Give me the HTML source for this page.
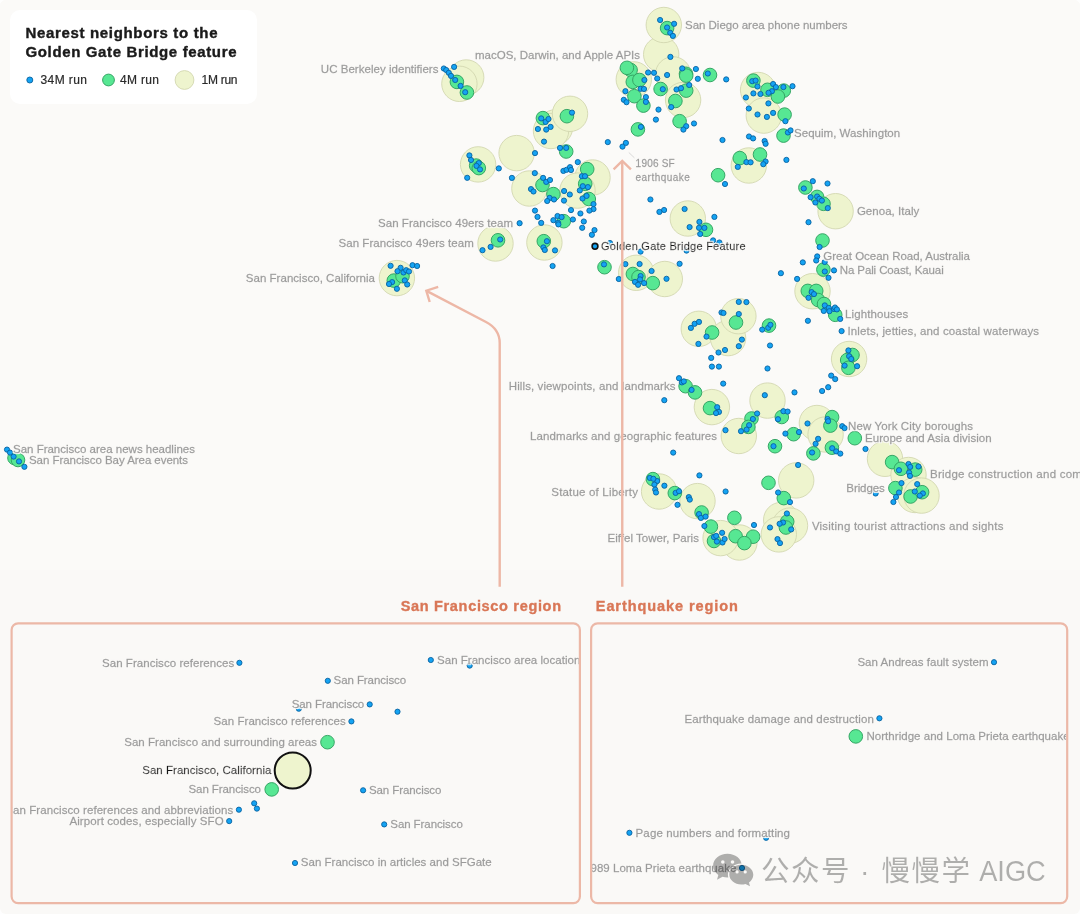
<!DOCTYPE html>
<html><head><meta charset="utf-8"><title>Nearest neighbors to the Golden Gate Bridge feature</title>
<style>
html,body{margin:0;padding:0;background:#fefefe}
body{width:1080px;height:914px;overflow:hidden;position:relative;font-family:"Liberation Sans", sans-serif}
#page{position:absolute;left:0;top:0;width:1080px;height:914px;background:#faf9f7;border-radius:6px;overflow:hidden}
#legend{position:absolute;left:10px;top:10px;width:247px;height:94px;background:#fff;border-radius:10px}
</style></head><body>
<div id="page">
<div style="position:absolute;left:0;top:0;width:1080px;height:570px;background:#fbfaf8"></div>
<div id="legend"></div>
<svg width="1080" height="914" viewBox="0 0 1080 914" style="position:absolute;left:0;top:0;will-change:transform" font-family='"Liberation Sans", sans-serif'><style>
.y{fill:#eef4ce;stroke:#d2d7b0;stroke-width:0.9}
.g{fill:#57e793;stroke:#36a565;stroke-width:1}
.b{fill:#14a3f3;stroke:#09629f;stroke-width:0.9}
.lab text{stroke-width:0.3px}
.arr{fill:none;stroke:#edb7a6;stroke-width:2.4;stroke-linecap:round;stroke-linejoin:round}
</style><g><circle class="y" cx="466.2" cy="77.5" r="17.7"/><circle class="y" cx="459.4" cy="83.8" r="17.7"/><circle class="y" cx="516.6" cy="153.1" r="17.7"/><circle class="y" cx="478.1" cy="164.4" r="17.7"/><circle class="y" cx="529.4" cy="188.5" r="17.7"/><circle class="y" cx="592.5" cy="177.5" r="17.7"/><circle class="y" cx="577.5" cy="190.6" r="17.7"/><circle class="y" cx="555.0" cy="127.5" r="17.7"/><circle class="y" cx="551.0" cy="131.0" r="17.7"/><circle class="y" cx="570.0" cy="113.8" r="17.7"/><circle class="y" cx="544.4" cy="242.5" r="17.7"/><circle class="y" cx="495.5" cy="243.5" r="17.7"/><circle class="y" cx="396.9" cy="278.1" r="17.7"/><circle class="y" cx="661.2" cy="54.4" r="17.7"/><circle class="y" cx="663.8" cy="25.0" r="17.7"/><circle class="y" cx="673.1" cy="74.4" r="17.7"/><circle class="y" cx="633.8" cy="79.4" r="17.7"/><circle class="y" cx="683.1" cy="100.0" r="17.7"/><circle class="y" cx="758.1" cy="90.0" r="17.7"/><circle class="y" cx="763.8" cy="115.6" r="17.7"/><circle class="y" cx="748.8" cy="165.5" r="17.7"/><circle class="y" cx="835.6" cy="211.2" r="17.7"/><circle class="y" cx="687.8" cy="218.5" r="17.7"/><circle class="y" cx="636.2" cy="272.8" r="17.7"/><circle class="y" cx="664.8" cy="279.0" r="17.7"/><circle class="y" cx="812.5" cy="291.2" r="17.7"/><circle class="y" cx="849.1" cy="359.0" r="17.7"/><circle class="y" cx="698.8" cy="328.8" r="17.7"/><circle class="y" cx="728.1" cy="338.1" r="17.7"/><circle class="y" cx="738.4" cy="316.2" r="17.7"/><circle class="y" cx="767.5" cy="400.6" r="17.7"/><circle class="y" cx="711.9" cy="407.1" r="17.7"/><circle class="y" cx="738.8" cy="436.0" r="17.7"/><circle class="y" cx="796.2" cy="480.4" r="17.7"/><circle class="y" cx="659.1" cy="491.5" r="17.7"/><circle class="y" cx="697.5" cy="501.1" r="17.7"/><circle class="y" cx="816.9" cy="423.0" r="17.7"/><circle class="y" cx="825.6" cy="434.5" r="17.7"/><circle class="y" cx="885.0" cy="458.8" r="17.7"/><circle class="y" cx="908.5" cy="475.0" r="17.7"/><circle class="y" cx="915.0" cy="495.0" r="17.7"/><circle class="y" cx="921.5" cy="495.6" r="17.7"/><circle class="y" cx="781.2" cy="520.0" r="17.7"/><circle class="y" cx="790.0" cy="525.6" r="17.7"/><circle class="y" cx="778.8" cy="534.4" r="17.7"/><circle class="y" cx="739.4" cy="542.5" r="17.7"/><circle class="y" cx="720.6" cy="538.1" r="17.7"/></g><g><circle class="g" cx="456.9" cy="81.9" r="6.8"/><circle class="g" cx="466.9" cy="92.5" r="6.8"/><circle class="g" cx="542.9" cy="118.1" r="6.8"/><circle class="g" cx="566.9" cy="116.2" r="6.8"/><circle class="g" cx="476.2" cy="165.6" r="6.8"/><circle class="g" cx="478.8" cy="168.1" r="6.8"/><circle class="g" cx="566.2" cy="151.5" r="6.8"/><circle class="g" cx="587.2" cy="169.1" r="6.8"/><circle class="g" cx="585.2" cy="183.8" r="6.8"/><circle class="g" cx="588.8" cy="199.0" r="6.8"/><circle class="g" cx="542.5" cy="185.0" r="6.8"/><circle class="g" cx="553.4" cy="194.1" r="6.8"/><circle class="g" cx="563.8" cy="221.2" r="6.8"/><circle class="g" cx="543.8" cy="241.2" r="6.8"/><circle class="g" cx="498.0" cy="240.3" r="6.8"/><circle class="g" cx="393.8" cy="280.6" r="6.8"/><circle class="g" cx="402.5" cy="276.2" r="6.8"/><circle class="g" cx="667.1" cy="28.1" r="6.8"/><circle class="g" cx="630.6" cy="70.0" r="6.8"/><circle class="g" cx="626.9" cy="67.8" r="6.8"/><circle class="g" cx="632.8" cy="81.9" r="6.8"/><circle class="g" cx="639.4" cy="80.0" r="6.8"/><circle class="g" cx="634.4" cy="96.2" r="6.8"/><circle class="g" cx="643.4" cy="105.6" r="6.8"/><circle class="g" cx="660.6" cy="89.0" r="6.8"/><circle class="g" cx="686.0" cy="73.8" r="6.8"/><circle class="g" cx="686.2" cy="75.6" r="6.8"/><circle class="g" cx="710.0" cy="75.0" r="6.8"/><circle class="g" cx="686.2" cy="90.6" r="6.8"/><circle class="g" cx="675.4" cy="101.0" r="6.8"/><circle class="g" cx="637.9" cy="129.4" r="6.8"/><circle class="g" cx="679.6" cy="121.2" r="6.8"/><circle class="g" cx="718.1" cy="175.2" r="6.8"/><circle class="g" cx="753.4" cy="80.6" r="6.8"/><circle class="g" cx="767.5" cy="89.8" r="6.8"/><circle class="g" cx="783.8" cy="90.6" r="6.8"/><circle class="g" cx="777.9" cy="96.5" r="6.8"/><circle class="g" cx="784.6" cy="114.6" r="6.8"/><circle class="g" cx="783.5" cy="135.6" r="6.8"/><circle class="g" cx="739.8" cy="158.1" r="6.8"/><circle class="g" cx="760.0" cy="154.5" r="6.8"/><circle class="g" cx="805.4" cy="187.5" r="6.8"/><circle class="g" cx="817.1" cy="196.9" r="6.8"/><circle class="g" cx="823.5" cy="203.8" r="6.8"/><circle class="g" cx="822.5" cy="240.5" r="6.8"/><circle class="g" cx="706.0" cy="229.8" r="6.8"/><circle class="g" cx="604.5" cy="267.2" r="6.8"/><circle class="g" cx="632.9" cy="274.0" r="6.8"/><circle class="g" cx="638.5" cy="277.1" r="6.8"/><circle class="g" cx="652.8" cy="283.1" r="6.8"/><circle class="g" cx="823.4" cy="269.6" r="6.8"/><circle class="g" cx="807.8" cy="290.9" r="6.8"/><circle class="g" cx="816.2" cy="290.9" r="6.8"/><circle class="g" cx="818.1" cy="300.0" r="6.8"/><circle class="g" cx="824.0" cy="304.0" r="6.8"/><circle class="g" cx="835.2" cy="314.8" r="6.8"/><circle class="g" cx="769.0" cy="325.6" r="6.8"/><circle class="g" cx="852.5" cy="355.0" r="6.8"/><circle class="g" cx="847.2" cy="360.0" r="6.8"/><circle class="g" cx="848.4" cy="367.8" r="6.8"/><circle class="g" cx="712.1" cy="332.5" r="6.8"/><circle class="g" cx="736.0" cy="322.5" r="6.8"/><circle class="g" cx="685.6" cy="386.2" r="6.8"/><circle class="g" cx="695.0" cy="392.4" r="6.8"/><circle class="g" cx="710.0" cy="408.1" r="6.8"/><circle class="g" cx="751.5" cy="418.5" r="6.8"/><circle class="g" cx="748.4" cy="426.9" r="6.8"/><circle class="g" cx="781.8" cy="417.0" r="6.8"/><circle class="g" cx="775.0" cy="446.2" r="6.8"/><circle class="g" cx="768.5" cy="482.8" r="6.8"/><circle class="g" cx="793.6" cy="434.2" r="6.8"/><circle class="g" cx="832.1" cy="417.1" r="6.8"/><circle class="g" cx="830.4" cy="425.6" r="6.8"/><circle class="g" cx="854.8" cy="438.2" r="6.8"/><circle class="g" cx="831.9" cy="447.7" r="6.8"/><circle class="g" cx="813.4" cy="453.4" r="6.8"/><circle class="g" cx="892.1" cy="462.1" r="6.8"/><circle class="g" cx="900.9" cy="468.8" r="6.8"/><circle class="g" cx="915.2" cy="469.6" r="6.8"/><circle class="g" cx="895.4" cy="488.1" r="6.8"/><circle class="g" cx="910.6" cy="496.5" r="6.8"/><circle class="g" cx="922.1" cy="492.2" r="6.8"/><circle class="g" cx="783.8" cy="498.1" r="6.8"/><circle class="g" cx="787.2" cy="521.6" r="6.8"/><circle class="g" cx="785.9" cy="527.5" r="6.8"/><circle class="g" cx="753.1" cy="536.7" r="6.8"/><circle class="g" cx="652.9" cy="479.1" r="6.8"/><circle class="g" cx="674.8" cy="493.1" r="6.8"/><circle class="g" cx="701.6" cy="512.5" r="6.8"/><circle class="g" cx="710.9" cy="526.6" r="6.8"/><circle class="g" cx="714.0" cy="541.0" r="6.8"/><circle class="g" cx="734.4" cy="517.8" r="6.8"/><circle class="g" cx="735.6" cy="536.2" r="6.8"/><circle class="g" cx="744.4" cy="543.1" r="6.8"/><circle class="g" cx="14.5" cy="458.0" r="6.8"/><circle class="g" cx="18.0" cy="460.0" r="6.8"/></g><g><circle class="b" cx="443.8" cy="68.5" r="2.6"/><circle class="b" cx="446.2" cy="70.0" r="2.6"/><circle class="b" cx="448.8" cy="72.8" r="2.6"/><circle class="b" cx="451.0" cy="75.9" r="2.6"/><circle class="b" cx="455.2" cy="80.0" r="2.6"/><circle class="b" cx="460.6" cy="85.9" r="2.6"/><circle class="b" cx="465.2" cy="92.2" r="2.6"/><circle class="b" cx="454.1" cy="66.9" r="2.6"/><circle class="b" cx="541.2" cy="118.4" r="2.6"/><circle class="b" cx="545.6" cy="121.9" r="2.6"/><circle class="b" cx="548.5" cy="119.0" r="2.6"/><circle class="b" cx="550.6" cy="126.9" r="2.6"/><circle class="b" cx="546.2" cy="129.6" r="2.6"/><circle class="b" cx="537.9" cy="129.0" r="2.6"/><circle class="b" cx="544.0" cy="141.6" r="2.6"/><circle class="b" cx="560.0" cy="147.9" r="2.6"/><circle class="b" cx="535.0" cy="153.1" r="2.6"/><circle class="b" cx="572.0" cy="112.6" r="2.6"/><circle class="b" cx="469.4" cy="155.4" r="2.6"/><circle class="b" cx="471.0" cy="160.0" r="2.6"/><circle class="b" cx="478.8" cy="163.1" r="2.6"/><circle class="b" cx="476.5" cy="165.9" r="2.6"/><circle class="b" cx="480.0" cy="169.4" r="2.6"/><circle class="b" cx="498.8" cy="168.4" r="2.6"/><circle class="b" cx="467.2" cy="177.8" r="2.6"/><circle class="b" cx="500.2" cy="239.5" r="2.6"/><circle class="b" cx="490.6" cy="246.9" r="2.6"/><circle class="b" cx="482.5" cy="250.2" r="2.6"/><circle class="b" cx="390.6" cy="265.8" r="2.6"/><circle class="b" cx="400.6" cy="267.8" r="2.6"/><circle class="b" cx="397.5" cy="271.2" r="2.6"/><circle class="b" cx="403.5" cy="272.5" r="2.6"/><circle class="b" cx="406.2" cy="270.2" r="2.6"/><circle class="b" cx="409.0" cy="271.5" r="2.6"/><circle class="b" cx="412.5" cy="265.2" r="2.6"/><circle class="b" cx="417.1" cy="266.0" r="2.6"/><circle class="b" cx="404.8" cy="280.4" r="2.6"/><circle class="b" cx="407.2" cy="284.5" r="2.6"/><circle class="b" cx="392.1" cy="282.1" r="2.6"/><circle class="b" cx="389.0" cy="284.0" r="2.6"/><circle class="b" cx="396.9" cy="288.8" r="2.6"/><circle class="b" cx="566.2" cy="147.9" r="2.6"/><circle class="b" cx="511.9" cy="177.9" r="2.6"/><circle class="b" cx="534.8" cy="173.1" r="2.6"/><circle class="b" cx="543.1" cy="177.9" r="2.6"/><circle class="b" cx="546.2" cy="181.9" r="2.6"/><circle class="b" cx="550.0" cy="180.0" r="2.6"/><circle class="b" cx="531.0" cy="189.1" r="2.6"/><circle class="b" cx="533.5" cy="191.5" r="2.6"/><circle class="b" cx="563.4" cy="170.9" r="2.6"/><circle class="b" cx="566.5" cy="169.8" r="2.6"/><circle class="b" cx="570.0" cy="167.2" r="2.6"/><circle class="b" cx="571.0" cy="170.0" r="2.6"/><circle class="b" cx="577.8" cy="162.1" r="2.6"/><circle class="b" cx="581.9" cy="176.2" r="2.6"/><circle class="b" cx="585.0" cy="176.2" r="2.6"/><circle class="b" cx="582.8" cy="186.2" r="2.6"/><circle class="b" cx="587.9" cy="187.1" r="2.6"/><circle class="b" cx="579.8" cy="190.4" r="2.6"/><circle class="b" cx="564.1" cy="191.0" r="2.6"/><circle class="b" cx="569.8" cy="194.5" r="2.6"/><circle class="b" cx="564.0" cy="200.6" r="2.6"/><circle class="b" cx="549.6" cy="197.9" r="2.6"/><circle class="b" cx="554.0" cy="199.5" r="2.6"/><circle class="b" cx="547.2" cy="201.0" r="2.6"/><circle class="b" cx="582.5" cy="198.5" r="2.6"/><circle class="b" cx="586.6" cy="195.9" r="2.6"/><circle class="b" cx="593.5" cy="204.1" r="2.6"/><circle class="b" cx="593.5" cy="209.1" r="2.6"/><circle class="b" cx="589.4" cy="210.6" r="2.6"/><circle class="b" cx="571.0" cy="210.1" r="2.6"/><circle class="b" cx="580.4" cy="213.5" r="2.6"/><circle class="b" cx="535.0" cy="210.6" r="2.6"/><circle class="b" cx="537.5" cy="216.9" r="2.6"/><circle class="b" cx="541.2" cy="222.9" r="2.6"/><circle class="b" cx="519.6" cy="223.2" r="2.6"/><circle class="b" cx="557.5" cy="216.0" r="2.6"/><circle class="b" cx="561.6" cy="217.1" r="2.6"/><circle class="b" cx="553.4" cy="220.2" r="2.6"/><circle class="b" cx="558.1" cy="222.8" r="2.6"/><circle class="b" cx="558.4" cy="224.4" r="2.6"/><circle class="b" cx="572.9" cy="219.5" r="2.6"/><circle class="b" cx="583.8" cy="221.5" r="2.6"/><circle class="b" cx="582.2" cy="227.8" r="2.6"/><circle class="b" cx="594.5" cy="230.1" r="2.6"/><circle class="b" cx="591.9" cy="234.8" r="2.6"/><circle class="b" cx="546.9" cy="241.2" r="2.6"/><circle class="b" cx="607.8" cy="142.1" r="2.6"/><circle class="b" cx="622.5" cy="146.6" r="2.6"/><circle class="b" cx="625.9" cy="142.9" r="2.6"/><circle class="b" cx="610.0" cy="243.0" r="2.6"/><circle class="b" cx="543.4" cy="247.4" r="2.6"/><circle class="b" cx="544.8" cy="250.0" r="2.6"/><circle class="b" cx="555.0" cy="250.4" r="2.6"/><circle class="b" cx="552.6" cy="266.0" r="2.6"/><circle class="b" cx="660.1" cy="20.0" r="2.6"/><circle class="b" cx="674.1" cy="23.8" r="2.6"/><circle class="b" cx="667.1" cy="27.5" r="2.6"/><circle class="b" cx="670.2" cy="32.8" r="2.6"/><circle class="b" cx="672.9" cy="35.9" r="2.6"/><circle class="b" cx="670.4" cy="56.9" r="2.6"/><circle class="b" cx="648.1" cy="72.5" r="2.6"/><circle class="b" cx="654.0" cy="72.8" r="2.6"/><circle class="b" cx="657.2" cy="78.5" r="2.6"/><circle class="b" cx="667.1" cy="75.0" r="2.6"/><circle class="b" cx="682.2" cy="68.4" r="2.6"/><circle class="b" cx="695.9" cy="69.0" r="2.6"/><circle class="b" cx="697.8" cy="78.8" r="2.6"/><circle class="b" cx="707.8" cy="73.5" r="2.6"/><circle class="b" cx="726.2" cy="79.4" r="2.6"/><circle class="b" cx="644.4" cy="80.0" r="2.6"/><circle class="b" cx="640.6" cy="88.8" r="2.6"/><circle class="b" cx="644.0" cy="89.0" r="2.6"/><circle class="b" cx="625.4" cy="91.2" r="2.6"/><circle class="b" cx="623.8" cy="99.8" r="2.6"/><circle class="b" cx="626.5" cy="102.2" r="2.6"/><circle class="b" cx="645.9" cy="97.1" r="2.6"/><circle class="b" cx="645.9" cy="101.9" r="2.6"/><circle class="b" cx="662.8" cy="89.2" r="2.6"/><circle class="b" cx="676.5" cy="89.5" r="2.6"/><circle class="b" cx="681.0" cy="88.2" r="2.6"/><circle class="b" cx="689.2" cy="85.0" r="2.6"/><circle class="b" cx="671.2" cy="107.1" r="2.6"/><circle class="b" cx="658.5" cy="109.6" r="2.6"/><circle class="b" cx="640.9" cy="126.9" r="2.6"/><circle class="b" cx="655.9" cy="119.6" r="2.6"/><circle class="b" cx="686.2" cy="126.2" r="2.6"/><circle class="b" cx="683.4" cy="129.6" r="2.6"/><circle class="b" cx="694.0" cy="123.5" r="2.6"/><circle class="b" cx="722.5" cy="140.0" r="2.6"/><circle class="b" cx="725.0" cy="184.0" r="2.6"/><circle class="b" cx="650.4" cy="199.5" r="2.6"/><circle class="b" cx="664.1" cy="210.0" r="2.6"/><circle class="b" cx="659.4" cy="211.9" r="2.6"/><circle class="b" cx="684.6" cy="209.0" r="2.6"/><circle class="b" cx="752.2" cy="81.2" r="2.6"/><circle class="b" cx="755.6" cy="80.6" r="2.6"/><circle class="b" cx="757.5" cy="86.5" r="2.6"/><circle class="b" cx="773.1" cy="84.0" r="2.6"/><circle class="b" cx="775.9" cy="87.1" r="2.6"/><circle class="b" cx="771.9" cy="91.2" r="2.6"/><circle class="b" cx="768.5" cy="92.8" r="2.6"/><circle class="b" cx="783.4" cy="87.1" r="2.6"/><circle class="b" cx="792.5" cy="86.2" r="2.6"/><circle class="b" cx="753.4" cy="93.4" r="2.6"/><circle class="b" cx="760.4" cy="94.0" r="2.6"/><circle class="b" cx="745.9" cy="97.5" r="2.6"/><circle class="b" cx="768.4" cy="103.4" r="2.6"/><circle class="b" cx="748.8" cy="108.5" r="2.6"/><circle class="b" cx="757.5" cy="114.5" r="2.6"/><circle class="b" cx="766.9" cy="116.9" r="2.6"/><circle class="b" cx="773.1" cy="112.9" r="2.6"/><circle class="b" cx="785.4" cy="121.2" r="2.6"/><circle class="b" cx="787.9" cy="132.5" r="2.6"/><circle class="b" cx="790.6" cy="130.4" r="2.6"/><circle class="b" cx="749.0" cy="136.5" r="2.6"/><circle class="b" cx="753.1" cy="138.4" r="2.6"/><circle class="b" cx="764.6" cy="141.0" r="2.6"/><circle class="b" cx="765.6" cy="143.8" r="2.6"/><circle class="b" cx="786.4" cy="159.9" r="2.6"/><circle class="b" cx="746.4" cy="162.1" r="2.6"/><circle class="b" cx="750.6" cy="162.3" r="2.6"/><circle class="b" cx="765.6" cy="161.5" r="2.6"/><circle class="b" cx="763.3" cy="164.2" r="2.6"/><circle class="b" cx="737.8" cy="166.9" r="2.6"/><circle class="b" cx="812.8" cy="181.2" r="2.6"/><circle class="b" cx="827.5" cy="183.5" r="2.6"/><circle class="b" cx="803.8" cy="188.5" r="2.6"/><circle class="b" cx="810.6" cy="197.2" r="2.6"/><circle class="b" cx="817.1" cy="196.5" r="2.6"/><circle class="b" cx="819.4" cy="198.8" r="2.6"/><circle class="b" cx="821.9" cy="200.6" r="2.6"/><circle class="b" cx="815.4" cy="202.5" r="2.6"/><circle class="b" cx="827.8" cy="208.1" r="2.6"/><circle class="b" cx="808.5" cy="222.2" r="2.6"/><circle class="b" cx="819.6" cy="247.0" r="2.6"/><circle class="b" cx="817.2" cy="256.4" r="2.6"/><circle class="b" cx="816.2" cy="260.5" r="2.6"/><circle class="b" cx="802.8" cy="262.4" r="2.6"/><circle class="b" cx="824.7" cy="262.0" r="2.6"/><circle class="b" cx="714.4" cy="216.9" r="2.6"/><circle class="b" cx="699.4" cy="221.9" r="2.6"/><circle class="b" cx="699.0" cy="227.8" r="2.6"/><circle class="b" cx="704.4" cy="227.9" r="2.6"/><circle class="b" cx="689.6" cy="227.1" r="2.6"/><circle class="b" cx="700.2" cy="234.0" r="2.6"/><circle class="b" cx="713.1" cy="240.4" r="2.6"/><circle class="b" cx="719.4" cy="242.5" r="2.6"/><circle class="b" cx="686.5" cy="250.6" r="2.6"/><circle class="b" cx="640.6" cy="251.6" r="2.6"/><circle class="b" cx="679.6" cy="263.8" r="2.6"/><circle class="b" cx="604.0" cy="264.4" r="2.6"/><circle class="b" cx="625.4" cy="264.1" r="2.6"/><circle class="b" cx="639.6" cy="264.0" r="2.6"/><circle class="b" cx="651.6" cy="271.0" r="2.6"/><circle class="b" cx="666.5" cy="278.8" r="2.6"/><circle class="b" cx="618.8" cy="279.0" r="2.6"/><circle class="b" cx="640.6" cy="276.0" r="2.6"/><circle class="b" cx="640.0" cy="279.4" r="2.6"/><circle class="b" cx="635.0" cy="281.9" r="2.6"/><circle class="b" cx="638.1" cy="284.8" r="2.6"/><circle class="b" cx="644.1" cy="283.1" r="2.6"/><circle class="b" cx="824.8" cy="271.5" r="2.6"/><circle class="b" cx="834.0" cy="270.4" r="2.6"/><circle class="b" cx="828.5" cy="277.8" r="2.6"/><circle class="b" cx="780.9" cy="273.2" r="2.6"/><circle class="b" cx="797.1" cy="278.9" r="2.6"/><circle class="b" cx="811.6" cy="292.1" r="2.6"/><circle class="b" cx="814.0" cy="294.1" r="2.6"/><circle class="b" cx="808.5" cy="297.8" r="2.6"/><circle class="b" cx="824.8" cy="305.4" r="2.6"/><circle class="b" cx="828.8" cy="307.9" r="2.6"/><circle class="b" cx="823.8" cy="310.9" r="2.6"/><circle class="b" cx="829.4" cy="311.2" r="2.6"/><circle class="b" cx="834.0" cy="309.0" r="2.6"/><circle class="b" cx="835.0" cy="307.5" r="2.6"/><circle class="b" cx="836.9" cy="309.4" r="2.6"/><circle class="b" cx="840.2" cy="318.9" r="2.6"/><circle class="b" cx="807.9" cy="320.8" r="2.6"/><circle class="b" cx="841.6" cy="331.1" r="2.6"/><circle class="b" cx="770.0" cy="345.5" r="2.6"/><circle class="b" cx="848.4" cy="350.4" r="2.6"/><circle class="b" cx="738.8" cy="301.9" r="2.6"/><circle class="b" cx="746.4" cy="302.1" r="2.6"/><circle class="b" cx="721.5" cy="312.5" r="2.6"/><circle class="b" cx="723.5" cy="313.0" r="2.6"/><circle class="b" cx="738.8" cy="314.0" r="2.6"/><circle class="b" cx="690.9" cy="327.9" r="2.6"/><circle class="b" cx="694.6" cy="323.8" r="2.6"/><circle class="b" cx="699.0" cy="321.9" r="2.6"/><circle class="b" cx="706.5" cy="336.6" r="2.6"/><circle class="b" cx="698.4" cy="343.9" r="2.6"/><circle class="b" cx="741.9" cy="339.6" r="2.6"/><circle class="b" cx="738.8" cy="346.2" r="2.6"/><circle class="b" cx="725.0" cy="350.0" r="2.6"/><circle class="b" cx="718.5" cy="352.5" r="2.6"/><circle class="b" cx="711.2" cy="357.9" r="2.6"/><circle class="b" cx="711.9" cy="366.6" r="2.6"/><circle class="b" cx="718.9" cy="366.6" r="2.6"/><circle class="b" cx="762.2" cy="329.6" r="2.6"/><circle class="b" cx="768.2" cy="327.8" r="2.6"/><circle class="b" cx="770.4" cy="324.8" r="2.6"/><circle class="b" cx="767.5" cy="368.5" r="2.6"/><circle class="b" cx="723.2" cy="383.6" r="2.6"/><circle class="b" cx="679.0" cy="378.2" r="2.6"/><circle class="b" cx="681.9" cy="382.4" r="2.6"/><circle class="b" cx="683.8" cy="381.4" r="2.6"/><circle class="b" cx="691.6" cy="389.9" r="2.6"/><circle class="b" cx="764.8" cy="395.2" r="2.6"/><circle class="b" cx="794.5" cy="392.4" r="2.6"/><circle class="b" cx="664.3" cy="400.2" r="2.6"/><circle class="b" cx="717.2" cy="407.2" r="2.6"/><circle class="b" cx="719.0" cy="411.9" r="2.6"/><circle class="b" cx="716.0" cy="413.1" r="2.6"/><circle class="b" cx="757.1" cy="413.5" r="2.6"/><circle class="b" cx="752.9" cy="419.0" r="2.6"/><circle class="b" cx="749.1" cy="425.2" r="2.6"/><circle class="b" cx="746.6" cy="429.6" r="2.6"/><circle class="b" cx="741.0" cy="431.2" r="2.6"/><circle class="b" cx="725.5" cy="430.2" r="2.6"/><circle class="b" cx="783.4" cy="411.2" r="2.6"/><circle class="b" cx="787.6" cy="411.6" r="2.6"/><circle class="b" cx="778.0" cy="419.2" r="2.6"/><circle class="b" cx="785.4" cy="433.6" r="2.6"/><circle class="b" cx="773.5" cy="446.2" r="2.6"/><circle class="b" cx="673.2" cy="452.6" r="2.6"/><circle class="b" cx="699.4" cy="475.4" r="2.6"/><circle class="b" cx="657.2" cy="481.0" r="2.6"/><circle class="b" cx="664.4" cy="485.7" r="2.6"/><circle class="b" cx="849.1" cy="356.2" r="2.6"/><circle class="b" cx="851.2" cy="359.0" r="2.6"/><circle class="b" cx="844.6" cy="365.6" r="2.6"/><circle class="b" cx="857.1" cy="366.2" r="2.6"/><circle class="b" cx="831.2" cy="375.6" r="2.6"/><circle class="b" cx="835.2" cy="379.1" r="2.6"/><circle class="b" cx="828.2" cy="387.2" r="2.6"/><circle class="b" cx="822.1" cy="391.0" r="2.6"/><circle class="b" cx="827.5" cy="419.0" r="2.6"/><circle class="b" cx="828.1" cy="421.2" r="2.6"/><circle class="b" cx="807.5" cy="423.5" r="2.6"/><circle class="b" cx="842.2" cy="426.2" r="2.6"/><circle class="b" cx="844.6" cy="428.1" r="2.6"/><circle class="b" cx="799.0" cy="432.1" r="2.6"/><circle class="b" cx="818.1" cy="438.8" r="2.6"/><circle class="b" cx="815.6" cy="443.8" r="2.6"/><circle class="b" cx="832.2" cy="448.2" r="2.6"/><circle class="b" cx="836.2" cy="451.4" r="2.6"/><circle class="b" cx="840.3" cy="453.6" r="2.6"/><circle class="b" cx="812.1" cy="452.5" r="2.6"/><circle class="b" cx="865.5" cy="449.0" r="2.6"/><circle class="b" cx="798.1" cy="465.0" r="2.6"/><circle class="b" cx="778.1" cy="492.5" r="2.6"/><circle class="b" cx="790.0" cy="502.1" r="2.6"/><circle class="b" cx="786.9" cy="513.5" r="2.6"/><circle class="b" cx="783.1" cy="522.5" r="2.6"/><circle class="b" cx="779.6" cy="523.8" r="2.6"/><circle class="b" cx="791.2" cy="529.4" r="2.6"/><circle class="b" cx="770.0" cy="527.5" r="2.6"/><circle class="b" cx="754.0" cy="525.0" r="2.6"/><circle class="b" cx="777.5" cy="539.1" r="2.6"/><circle class="b" cx="780.0" cy="543.1" r="2.6"/><circle class="b" cx="875.6" cy="493.5" r="2.6"/><circle class="b" cx="899.0" cy="470.2" r="2.6"/><circle class="b" cx="908.5" cy="464.0" r="2.6"/><circle class="b" cx="910.2" cy="466.9" r="2.6"/><circle class="b" cx="909.1" cy="472.5" r="2.6"/><circle class="b" cx="910.0" cy="475.9" r="2.6"/><circle class="b" cx="918.5" cy="466.5" r="2.6"/><circle class="b" cx="901.5" cy="483.1" r="2.6"/><circle class="b" cx="917.2" cy="484.1" r="2.6"/><circle class="b" cx="899.0" cy="492.5" r="2.6"/><circle class="b" cx="896.0" cy="497.0" r="2.6"/><circle class="b" cx="893.4" cy="502.0" r="2.6"/><circle class="b" cx="914.8" cy="491.5" r="2.6"/><circle class="b" cx="922.9" cy="493.4" r="2.6"/><circle class="b" cx="919.8" cy="495.6" r="2.6"/><circle class="b" cx="649.8" cy="477.9" r="2.6"/><circle class="b" cx="653.4" cy="478.8" r="2.6"/><circle class="b" cx="654.4" cy="484.6" r="2.6"/><circle class="b" cx="655.2" cy="489.6" r="2.6"/><circle class="b" cx="656.0" cy="492.5" r="2.6"/><circle class="b" cx="675.6" cy="492.9" r="2.6"/><circle class="b" cx="679.0" cy="491.2" r="2.6"/><circle class="b" cx="677.5" cy="504.8" r="2.6"/><circle class="b" cx="688.8" cy="497.1" r="2.6"/><circle class="b" cx="689.8" cy="499.6" r="2.6"/><circle class="b" cx="725.6" cy="491.5" r="2.6"/><circle class="b" cx="699.0" cy="514.1" r="2.6"/><circle class="b" cx="700.9" cy="517.9" r="2.6"/><circle class="b" cx="705.6" cy="516.6" r="2.6"/><circle class="b" cx="704.4" cy="526.0" r="2.6"/><circle class="b" cx="722.1" cy="532.8" r="2.6"/><circle class="b" cx="714.0" cy="537.1" r="2.6"/><circle class="b" cx="716.2" cy="535.9" r="2.6"/><circle class="b" cx="716.9" cy="541.6" r="2.6"/><circle class="b" cx="722.5" cy="542.5" r="2.6"/><circle class="b" cx="724.6" cy="539.0" r="2.6"/><circle class="b" cx="7.0" cy="449.6" r="2.6"/><circle class="b" cx="10.0" cy="452.6" r="2.6"/><circle class="b" cx="13.6" cy="456.6" r="2.6"/><circle class="b" cx="19.0" cy="461.4" r="2.6"/><circle class="b" cx="24.4" cy="466.8" r="2.6"/></g><circle cx="595" cy="246.3" r="2.9" fill="#12a1f1" stroke="#111" stroke-width="1.6"/><line x1="628.8" y1="152.5" x2="634.4" y2="157.8" stroke="#d0d0d0" stroke-width="0.8"/><defs><filter id="halo" x="0" y="0" width="1080" height="914" filterUnits="userSpaceOnUse"><feMorphology in="SourceAlpha" operator="dilate" radius="1.2" result="d"/><feFlood flood-color="#faf9f7"/><feComposite in2="d" operator="in" result="h"/><feMerge><feMergeNode in="h"/><feMergeNode in="SourceGraphic"/></feMerge></filter></defs><g class="lab" filter="url(#halo)"><text x="438.5" y="72.5" text-anchor="end" font-size="11.5" font-weight="normal" fill="#9b9b9b" stroke="#9b9b9b" letter-spacing="0.03">UC Berkeley identifiers</text><text x="475" y="58.7" text-anchor="start" font-size="11.5" font-weight="normal" fill="#9b9b9b" stroke="#9b9b9b" textLength="165" lengthAdjust="spacing">macOS, Darwin, and Apple APIs</text><text x="685" y="28.8" text-anchor="start" font-size="11.5" font-weight="normal" fill="#9b9b9b" stroke="#9b9b9b" textLength="162.6" lengthAdjust="spacing">San Diego area phone numbers</text><text x="794" y="136.5" text-anchor="start" font-size="11.5" font-weight="normal" fill="#9b9b9b" stroke="#9b9b9b" letter-spacing="0.03">Sequim, Washington</text><text x="856.9" y="215.0" text-anchor="start" font-size="11.5" font-weight="normal" fill="#9b9b9b" stroke="#9b9b9b" letter-spacing="0.03">Genoa, Italy</text><text x="823.3" y="260.2" text-anchor="start" font-size="11.5" font-weight="normal" fill="#9b9b9b" stroke="#9b9b9b" textLength="146.6" lengthAdjust="spacing">Great Ocean Road, Australia</text><text x="839.8" y="274.2" text-anchor="start" font-size="11.5" font-weight="normal" fill="#9b9b9b" stroke="#9b9b9b" textLength="103.9" lengthAdjust="spacing">Na Pali Coast, Kauai</text><text x="845" y="318.3" text-anchor="start" font-size="11.5" font-weight="normal" fill="#9b9b9b" stroke="#9b9b9b" textLength="63.2" lengthAdjust="spacing">Lighthouses</text><text x="847.5" y="335.0" text-anchor="start" font-size="11.5" font-weight="normal" fill="#9b9b9b" stroke="#9b9b9b" textLength="191.5" lengthAdjust="spacing">Inlets, jetties, and coastal waterways</text><text x="675.6" y="389.6" text-anchor="end" font-size="11.5" font-weight="normal" fill="#9b9b9b" stroke="#9b9b9b" textLength="166.8" lengthAdjust="spacing">Hills, viewpoints, and landmarks</text><text x="717.1" y="439.7" text-anchor="end" font-size="11.5" font-weight="normal" fill="#9b9b9b" stroke="#9b9b9b" textLength="187.1" lengthAdjust="spacing">Landmarks and geographic features</text><text x="848.1" y="430.0" text-anchor="start" font-size="11.5" font-weight="normal" fill="#9b9b9b" stroke="#9b9b9b" textLength="125" lengthAdjust="spacing">New York City boroughs</text><text x="865" y="441.5" text-anchor="start" font-size="11.5" font-weight="normal" fill="#9b9b9b" stroke="#9b9b9b" letter-spacing="0.03">Europe and Asia division</text><text x="930" y="478.3" text-anchor="start" font-size="11.5" font-weight="normal" fill="#9b9b9b" stroke="#9b9b9b" textLength="194.5" lengthAdjust="spacing">Bridge construction and components</text><text x="846.3" y="491.6" text-anchor="start" font-size="11.5" font-weight="normal" fill="#9b9b9b" stroke="#9b9b9b" textLength="38.5" lengthAdjust="spacing">Bridges</text><text x="811.9" y="529.7" text-anchor="start" font-size="11.5" font-weight="normal" fill="#9b9b9b" stroke="#9b9b9b" textLength="191.5" lengthAdjust="spacing">Visiting tourist attractions and sights</text><text x="638" y="495.6" text-anchor="end" font-size="11.5" font-weight="normal" fill="#9b9b9b" stroke="#9b9b9b" textLength="86.7" lengthAdjust="spacing">Statue of Liberty</text><text x="699" y="541.8" text-anchor="end" font-size="11.5" font-weight="normal" fill="#9b9b9b" stroke="#9b9b9b" letter-spacing="0.03">Eiffel Tower, Paris</text><text x="378.1" y="227.1" text-anchor="start" font-size="11.5" font-weight="normal" fill="#9b9b9b" stroke="#9b9b9b" letter-spacing="0.03">San Francisco 49ers team</text><text x="338.5" y="246.7" text-anchor="start" font-size="11.5" font-weight="normal" fill="#9b9b9b" stroke="#9b9b9b" textLength="135.25" lengthAdjust="spacing">San Francisco 49ers team</text><text x="375" y="281.7" text-anchor="end" font-size="11.5" font-weight="normal" fill="#9b9b9b" stroke="#9b9b9b" letter-spacing="0.03">San Francisco, California</text><text x="13" y="453.2" text-anchor="start" font-size="11.5" font-weight="normal" fill="#9b9b9b" stroke="#9b9b9b" textLength="182" lengthAdjust="spacing">San Francisco area news headlines</text><text x="29" y="464.2" text-anchor="start" font-size="11.5" font-weight="normal" fill="#9b9b9b" stroke="#9b9b9b" textLength="159" lengthAdjust="spacing">San Francisco Bay Area events</text><text x="635.6" y="166.8" text-anchor="start" font-size="10" font-weight="normal" fill="#9b9b9b" stroke="#9b9b9b" textLength="39.1" lengthAdjust="spacing">1906 SF</text><text x="635.6" y="180.8" text-anchor="start" font-size="10" font-weight="normal" fill="#9b9b9b" stroke="#9b9b9b" textLength="54.1" lengthAdjust="spacing">earthquake</text><text x="601" y="249.9" text-anchor="start" font-size="11" font-weight="normal" fill="#1a1a1a" stroke="#1a1a1a" textLength="144.6" lengthAdjust="spacing">Golden Gate Bridge Feature</text></g><path class="arr" style="stroke-linecap:butt" d="M427 291.1 L486 322 Q499.7 329.2 499.7 343 L499.7 586.7"/><path class="arr" d="M438.2 286.9 L426.3 290.7 L429.7 302" style="stroke-linecap:butt;stroke-linejoin:miter"/><path class="arr" d="M622.25 161.5 L622.25 586.7" style="stroke-linecap:butt"/><path class="arr" d="M613.6 169.3 L622.25 160.9 L630.9 169.3" style="stroke-linecap:butt;stroke-linejoin:miter"/><text x="400.7" y="611" font-size="14.5" font-weight="bold" fill="#d97757" stroke="#d97757" stroke-width="0.35" textLength="160.3" lengthAdjust="spacing">San Francisco region</text><text x="595.8" y="611" font-size="14.5" font-weight="bold" fill="#d97757" stroke="#d97757" stroke-width="0.35" textLength="142" lengthAdjust="spacing">Earthquake region</text></svg>
<svg width="1080" height="914" viewBox="0 0 1080 914" style="position:absolute;left:0;top:0;will-change:transform" font-family='"Liberation Sans", sans-serif'><style>
.lab2 text{stroke-width:0.3px}
</style>
<defs><clipPath id="c1"><rect x="12.6" y="624.5" width="566.3" height="277.5" rx="5"/></clipPath>
<clipPath id="c2"><rect x="592.1" y="624.5" width="474" height="277.5" rx="5"/></clipPath></defs><g clip-path="url(#c1)"><circle class="b" cx="239.4" cy="662.8" r="2.6"/><circle class="b" cx="238.9" cy="809.7" r="2.6"/><circle class="b" cx="229.2" cy="821.1" r="2.6"/><circle class="b" cx="254.2" cy="803.3" r="2.6"/><circle class="b" cx="256.9" cy="808.6" r="2.6"/><circle class="b" cx="295.0" cy="863.0" r="2.6"/><circle class="b" cx="298.8" cy="708.7" r="2.6"/><circle class="b" cx="430.8" cy="660.0" r="2.6"/><circle class="b" cx="469.7" cy="665.6" r="2.6"/><circle class="b" cx="327.8" cy="680.8" r="2.6"/><circle class="b" cx="369.7" cy="704.4" r="2.6"/><circle class="b" cx="397.5" cy="711.7" r="2.6"/><circle class="b" cx="351.4" cy="721.4" r="2.6"/><circle class="b" cx="363.1" cy="790.3" r="2.6"/><circle class="b" cx="384.2" cy="824.4" r="2.6"/><circle class="g" cx="271.7" cy="789.4" r="6.8"/><circle class="g" cx="327.5" cy="742.2" r="6.8"/><circle cx="292.7" cy="770.5" r="18" fill="#eef4ce" stroke="#111" stroke-width="2"/><g class="lab2" filter="url(#halo)"><text x="234.2" y="667" text-anchor="end" font-size="11.5" font-weight="normal" fill="#9b9b9b" stroke="#9b9b9b" textLength="132.2" lengthAdjust="spacing">San Francisco references</text><text x="437" y="663.6" text-anchor="start" font-size="11.5" font-weight="normal" fill="#9b9b9b" stroke="#9b9b9b" letter-spacing="0.03">San Francisco area location</text><text x="333.6" y="684.4" text-anchor="start" font-size="11.5" font-weight="normal" fill="#9b9b9b" stroke="#9b9b9b" textLength="72.5" lengthAdjust="spacing">San Francisco</text><text x="364.2" y="708" text-anchor="end" font-size="11.5" font-weight="normal" fill="#9b9b9b" stroke="#9b9b9b" textLength="72.5" lengthAdjust="spacing">San Francisco</text><text x="345.8" y="724.7" text-anchor="end" font-size="11.5" font-weight="normal" fill="#9b9b9b" stroke="#9b9b9b" textLength="132.2" lengthAdjust="spacing">San Francisco references</text><text x="317" y="746" text-anchor="end" font-size="11.5" font-weight="normal" fill="#9b9b9b" stroke="#9b9b9b" textLength="192.8" lengthAdjust="spacing">San Francisco and surrounding areas</text><text x="261" y="793.1" text-anchor="end" font-size="11.5" font-weight="normal" fill="#9b9b9b" stroke="#9b9b9b" textLength="72.5" lengthAdjust="spacing">San Francisco</text><text x="368.9" y="793.6" text-anchor="start" font-size="11.5" font-weight="normal" fill="#9b9b9b" stroke="#9b9b9b" textLength="72.5" lengthAdjust="spacing">San Francisco</text><text x="233.3" y="813.6" text-anchor="end" font-size="11.5" font-weight="normal" fill="#9b9b9b" stroke="#9b9b9b" textLength="228" lengthAdjust="spacing">San Francisco references and abbreviations</text><text x="223.6" y="824.7" text-anchor="end" font-size="11.5" font-weight="normal" fill="#9b9b9b" stroke="#9b9b9b" textLength="154.2" lengthAdjust="spacing">Airport codes, especially SFO</text><text x="390.3" y="828" text-anchor="start" font-size="11.5" font-weight="normal" fill="#9b9b9b" stroke="#9b9b9b" textLength="72.5" lengthAdjust="spacing">San Francisco</text><text x="300.8" y="866.4" text-anchor="start" font-size="11.5" font-weight="normal" fill="#9b9b9b" stroke="#9b9b9b" textLength="190.9" lengthAdjust="spacing">San Francisco in articles and SFGate</text><text x="271.4" y="774" text-anchor="end" font-size="11.5" font-weight="normal" fill="#1a1a1a" stroke="#1a1a1a" textLength="129.2" lengthAdjust="spacing">San Francisco, California</text></g></g><g clip-path="url(#c2)"><circle class="b" cx="994.0" cy="662.2" r="2.6"/><circle class="b" cx="879.4" cy="718.3" r="2.6"/><circle class="b" cx="629.4" cy="832.8" r="2.6"/><circle class="b" cx="766.1" cy="837.8" r="2.6"/><circle class="b" cx="742.0" cy="868.0" r="2.6"/><circle class="g" cx="855.8" cy="736.4" r="6.8"/><g class="lab2" filter="url(#halo)"><text x="988.5" y="665.5" text-anchor="end" font-size="11.5" font-weight="normal" fill="#9b9b9b" stroke="#9b9b9b" letter-spacing="0.03">San Andreas fault system</text><text x="684.4" y="722.5" text-anchor="start" font-size="11.5" font-weight="normal" fill="#9b9b9b" stroke="#9b9b9b" textLength="189.5" lengthAdjust="spacing">Earthquake damage and destruction</text><text x="866.5" y="740" text-anchor="start" font-size="11.5" font-weight="normal" fill="#9b9b9b" stroke="#9b9b9b" letter-spacing="0.03">Northridge and Loma Prieta earthquakes</text><text x="635.6" y="836.7" text-anchor="start" font-size="11.5" font-weight="normal" fill="#9b9b9b" stroke="#9b9b9b" textLength="154.4" lengthAdjust="spacing">Page numbers and formatting</text><text x="736.4" y="872" text-anchor="end" font-size="11.5" font-weight="normal" fill="#9b9b9b" stroke="#9b9b9b" letter-spacing="0.03">1989 Loma Prieta earthquake</text></g></g><rect x="11.6" y="623.4" width="568.3" height="279.7" rx="6.5" fill="none" stroke="#ecb8a7" stroke-width="2.2"/><rect x="591.1" y="623.4" width="476.1" height="279.7" rx="6.5" fill="none" stroke="#ecb8a7" stroke-width="2.2"/><defs><mask id="wm" maskUnits="userSpaceOnUse" x="700" y="840" width="80" height="60">
<rect x="700" y="840" width="80" height="60" fill="#fff"/>
<path d="M741.3 863.4c7.500 0 13.400 5 13.400 11.400 0 3.400-1.800 6.500-4.600 8.600l1.500 5.200-5.900-3c-1.400.4-2.900.6-4.400.6-7.500 0-13.400-5-13.400-11.400s5.900-11.400 13.400-11.400z" fill="#000"/>
<circle cx="722.8" cy="862" r="1.8" fill="#000"/><circle cx="732.5" cy="862" r="1.8" fill="#000"/>
</mask>
<mask id="wm2" maskUnits="userSpaceOnUse" x="700" y="840" width="80" height="60">
<rect x="700" y="840" width="80" height="60" fill="#fff"/>
<circle cx="737.1" cy="871.9" r="1.6" fill="#000"/><circle cx="745.2" cy="871.9" r="1.6" fill="#000"/>
</mask></defs>
<g fill="#000" fill-opacity="0.3">
<path mask="url(#wm)" d="M727.4 853.7c-7.900 0-14.300 5.400-14.300 12 0 3.700 2 7 5.200 9.200l-1.300 4.800 5.500-3c1.500.4 3.200.7 4.900.7 7.900 0 14.300-5.400 14.300-12s-6.400-11.700-14.300-11.700z"/>
<path mask="url(#wm2)" d="M741.3 864.800c6.600 0 12 4.500 12 10 0 3.100-1.700 5.800-4.300 7.700l1 3.800-4.500-2.300c-1.300.4-2.700.6-4.200.6-6.600 0-12-4.500-12-10s5.400-9.800 12-9.800z"/>
</g><text y="880.5" font-size="28.5" fill="#000" fill-opacity="0.3" font-family='"Liberation Sans","Noto Sans CJK SC",sans-serif'><tspan x="761 791 821">公众号</tspan><tspan x="852.2"> · </tspan><tspan x="881.5 911.5 941.5">慢慢学</tspan><tspan x="972.5"> </tspan><tspan x="979.2" y="881" font-size="29.5" textLength="66.5" lengthAdjust="spacingAndGlyphs">AIGC</tspan></text></svg>
<svg width="270" height="115" viewBox="0 0 270 115" style="position:absolute;left:0;top:0;will-change:transform" font-family='"Liberation Sans", sans-serif'>
<text x="25.5" y="37.5" font-size="15" font-weight="bold" fill="#1a1a1a" stroke="#1a1a1a" stroke-width="0.4" textLength="192" lengthAdjust="spacing">Nearest neighbors to the</text>
<text x="25.5" y="57" font-size="15" font-weight="bold" fill="#1a1a1a" stroke="#1a1a1a" stroke-width="0.4" textLength="211" lengthAdjust="spacing">Golden Gate Bridge feature</text>
<circle cx="29.8" cy="80" r="3" fill="#14a3f3" stroke="#09629f" stroke-width="0.9"/>
<text x="40.5" y="83.8" font-size="12" fill="#2a2a2a" stroke="#2a2a2a" stroke-width="0.2" textLength="46.5" lengthAdjust="spacing">34M run</text>
<circle cx="108.5" cy="80" r="5.9" fill="#57e793" stroke="#36a565" stroke-width="1"/>
<text x="120" y="83.8" font-size="12" fill="#2a2a2a" stroke="#2a2a2a" stroke-width="0.2" textLength="39" lengthAdjust="spacing">4M run</text>
<circle cx="184.5" cy="80" r="9.4" fill="#eef4ce" stroke="#d2d7b0" stroke-width="0.9"/>
<text x="201.5" y="83.8" font-size="12" fill="#2a2a2a" stroke="#2a2a2a" stroke-width="0.2" textLength="36" lengthAdjust="spacing">1M run</text>
</svg>
</div>
</body></html>
